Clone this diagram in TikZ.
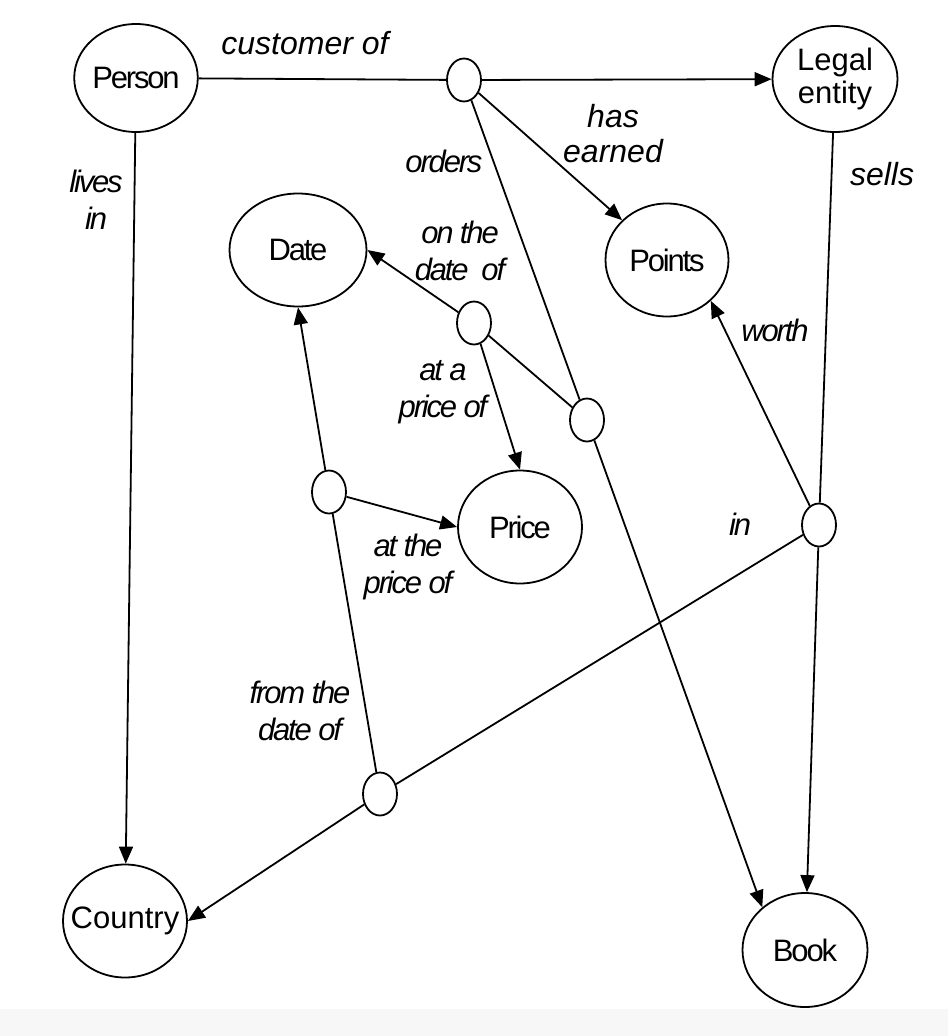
\documentclass[tikz,border=0pt]{standalone}
\usepackage{fontspec}
\setmainfont{Liberation Sans}
\newfontfamily\tightfont{Liberation Sans}[LetterSpace=-7]
\usetikzlibrary{arrows.meta, shapes.geometric}
\tikzset{
  entity/.style = {ellipse, draw, line width=1.8pt, minimum width=124pt, minimum height=113pt,
    inner sep=0pt, align=center, font=\tightfont\fontsize{31}{34}\selectfont},
  wide/.style = {font=\fontsize{31}{33}\selectfont},
  rel/.style = {ellipse, draw, line width=1.8pt, minimum width=34pt, minimum height=43pt, inner sep=0pt},
  link/.style = {line width=1.8pt},
  arrow/.style = {link, -{Triangle[length=17pt, width=14pt]}},
  role/.style = {align=center, inner sep=0pt, font=\tightfont\fontsize{31}{37}\selectfont\itshape},
  loose/.style = {align=center, inner sep=0pt, font=\fontsize{32}{35}\selectfont\itshape}
}

\begin{document}
\begin{tikzpicture}[x=1pt, y=-1pt]

  \useasboundingbox (0,0) rectangle (948,1036);
  \fill[black!3] (0,1009) rectangle (948,1036);

  % Entities
  \node[entity, minimum width=123pt, minimum height=108pt] (person) at (136,78) {Person};
  \node[entity, wide, minimum width=125pt, minimum height=106pt] (legal) at (835,79) {Legal\\entity};
  \node[entity, minimum width=137pt] (date) at (298,250) {Date};
  \node[entity, minimum width=123pt] (points) at (667,260) {Points};
  \node[entity] (price) at (520,527) {Price};
  \node[entity, wide, inner xsep=-18pt] (country) at (125,921) {Country};
  \node[entity, minimum width=125pt, minimum height=114pt] (book) at (805,950) {Book};

  % Relation hubs
  \node[rel] (r1) at (464,80) {};
  \node[rel] (r2) at (474,323) {};
  \node[rel] (r3) at (587,420) {};
  \node[rel] (r4) at (329,492) {};
  \node[rel] (r5) at (819,525) {};
  \node[rel] (r6) at (380,794) {};

  % Customer, orders, points
  \draw[link] (person) -- (r1);
  \draw[arrow] (r1) -- (legal);
  \draw[arrow] (r1) -- (points);
  \draw[link] (r1) -- (r3);
  \draw[arrow] (r3) -- (book.135);
  \draw[arrow] (person) -- (country);

  % Date and price of the order
  \draw[link] (r2) -- (r3);
  \draw[arrow] (r2) -- (date.east);
  \draw[arrow] (r2) -- (price.north);

  % Price from a date
  \draw[arrow] (r4) -- (date.south);
  \draw[arrow] (r4) -- (price.west);
  \draw[link] (r4) -- (r6);

  % Sells
  \draw[link] (legal) -- (r5);
  \draw[arrow] (r5) -- (points.-43);
  \draw[arrow] (r5) -- (book);
  \draw[link] (r5) -- (r6);
  \draw[arrow] (r6) -- (country.east);

  % Labels
  \node[loose] (lcust) at (305,43) {customer of};
  \node[loose] (learn) at (613,134) {has\\earned};
  \node[loose] (lsell) at (882,174) {sells};
  \node[role] (lorder) at (444,161) {orders};
  \node[role] (llive) at (96,200) {lives\\in};
  \node[role] (ldate) at (460,251) {on the\\date~~of};
  \node[role] (lprice) at (443,392) {at a\\price of};
  \node[role] (lpricetwo) at (408,567) {at the\\price of};
  \node[role] (lfrom) at (300,711) {from the\\date of};
  \node[role] (lworth) at (775,330) {worth};
  \node[role] (lin) at (740,524) {in};

\end{tikzpicture}
\end{document}
